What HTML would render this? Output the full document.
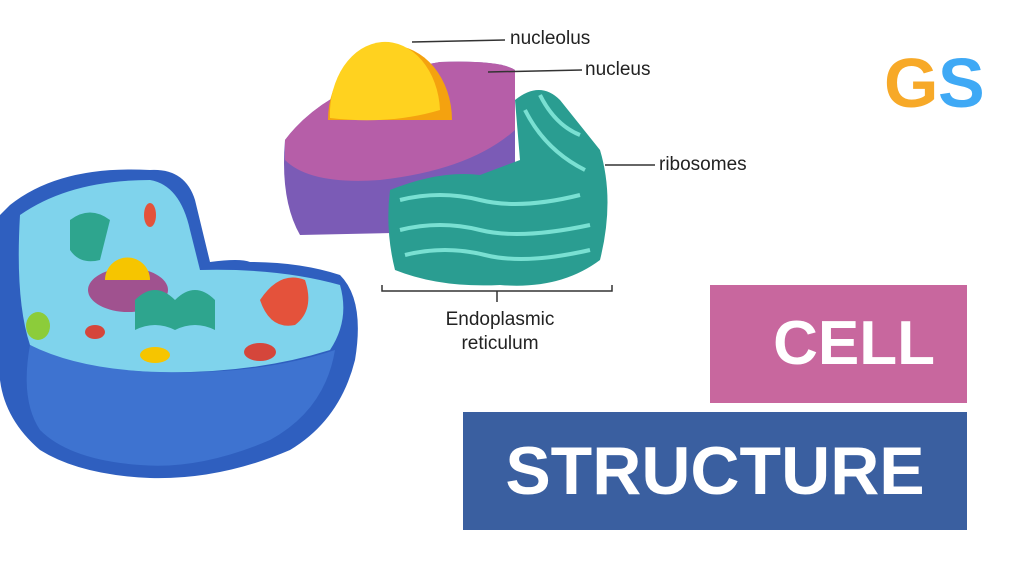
<!DOCTYPE html>
<html><head><meta charset="utf-8"><style>
html,body{margin:0;padding:0;background:#fff;}
body{width:1024px;height:576px;position:relative;overflow:hidden;font-family:"Liberation Sans",sans-serif;}
.lbl{position:absolute;font-size:19px;color:#222;}
.box{position:absolute;color:#fff;font-weight:bold;}
</style></head><body>
<svg width="1024" height="576" style="position:absolute;left:0;top:0">
<!-- cell -->
<path d="M10,205 Q60,165 150,170 Q185,168 195,200 L210,262 Q240,258 250,262 Q300,262 340,275 Q365,300 355,360 Q340,420 290,450 Q220,480 150,478 Q80,475 40,450 Q5,420 0,380 L0,215 Z" fill="#2f5fbf"/>
<path d="M20,215 Q70,180 150,180 Q180,185 190,230 L200,270 Q280,268 340,285 Q350,320 330,350 Q250,375 150,372 Q70,368 30,345 Q15,300 20,215 Z" fill="#7fd3ec"/>
<path d="M30,345 Q80,370 160,372 Q260,375 335,350 Q325,410 270,440 Q200,470 140,465 Q70,460 40,430 Q20,400 30,345 Z" fill="#3e73d0"/>
<ellipse cx="128" cy="290" rx="40" ry="22" fill="#a0528f"/>
<path d="M105,280 A22,22 0 0 1 150,280 Z" fill="#f6c500"/>
<path d="M135,300 q20,-20 40,0 q20,-20 40,0 l0,30 q-20,-10 -40,0 q-20,-10 -40,0Z" fill="#2ea58e"/>
<path d="M260,300 q20,-30 45,-20 q10,30 -10,45 q-25,5 -35,-25Z" fill="#e4523b"/>
<path d="M70,220 q20,-15 40,0 l-10,40 q-20,5 -30,-10Z" fill="#2ea58e"/>
<ellipse cx="38" cy="326" rx="12" ry="14" fill="#8ccc3a"/>
<ellipse cx="150" cy="215" rx="6" ry="12" fill="#e4523b"/>
<ellipse cx="155" cy="355" rx="15" ry="8" fill="#f6c500"/>
<ellipse cx="260" cy="352" rx="16" ry="9" fill="#d5463b"/>
<ellipse cx="95" cy="332" rx="10" ry="7" fill="#d5463b"/>
<!-- nucleus slab -->
<path d="M285,140 Q330,80 440,62 Q500,60 515,70 L515,200 Q480,225 440,232 L300,235 Q280,200 285,140 Z" fill="#7b5bb6"/>
<path d="M285,140 Q330,80 440,62 Q500,60 515,70 L515,130 Q470,170 380,180 Q310,185 285,160 Z" fill="#b65ea8"/>
<path d="M328,120 A62,75 0 0 1 452,120 Z" fill="#f4a20f"/>
<path d="M330,118 A55,72 0 0 1 440,110 Q390,125 330,118 Z" fill="#ffd21f"/>
<!-- ER -->
<path d="M390,190 Q440,170 480,175 L520,160 L515,100 Q540,80 560,100 L600,150 Q615,200 600,260 Q560,290 500,285 Q440,288 395,270 Q385,230 390,190 Z" fill="#2a9d91"/>
<g fill="none" stroke="#79e0d2" stroke-width="4">
<path d="M400,200 q40,-10 80,0 q40,10 100,-5"/><path d="M400,230 q40,-10 80,0 q40,10 110,-5"/><path d="M405,255 q40,-10 80,0 q40,10 105,-5"/><path d="M525,110 q20,40 60,60"/><path d="M540,95 q15,30 40,40"/>
</g>
<!-- lines -->
<g stroke="#333" stroke-width="1.5" fill="none">
<line x1="412" y1="42" x2="505" y2="40"/>
<line x1="488" y1="72" x2="582" y2="70"/>
<line x1="605" y1="165" x2="655" y2="165"/>
<path d="M382,285 v6 h230 v-6"/>
<line x1="497" y1="291" x2="497" y2="302"/>
</g>
<text x="884" y="107" font-family="Liberation Sans" font-weight="bold" font-size="70" fill="#f7a928">G</text>
<text x="938" y="107" font-family="Liberation Sans" font-weight="bold" font-size="70" fill="#3fa9f5">S</text>
</svg>
<div class="lbl" style="left:510px;top:28px">nucleolus</div>
<div class="lbl" style="left:585px;top:59px">nucleus</div>
<div class="lbl" style="left:659px;top:154px">ribosomes</div>
<div class="lbl" style="left:440px;top:308px;text-align:center;width:120px;line-height:24px">Endoplasmic reticulum</div>
<div class="box" style="left:710px;top:285px;width:257px;height:118px;background:#c8679e;font-size:62px;line-height:118px;text-align:right;box-sizing:border-box;padding-right:32px">CELL</div>
<div class="box" style="left:463px;top:412px;width:504px;height:118px;background:#3a5fa0;font-size:68px;line-height:118px;text-align:center">STRUCTURE</div>
</body></html>
